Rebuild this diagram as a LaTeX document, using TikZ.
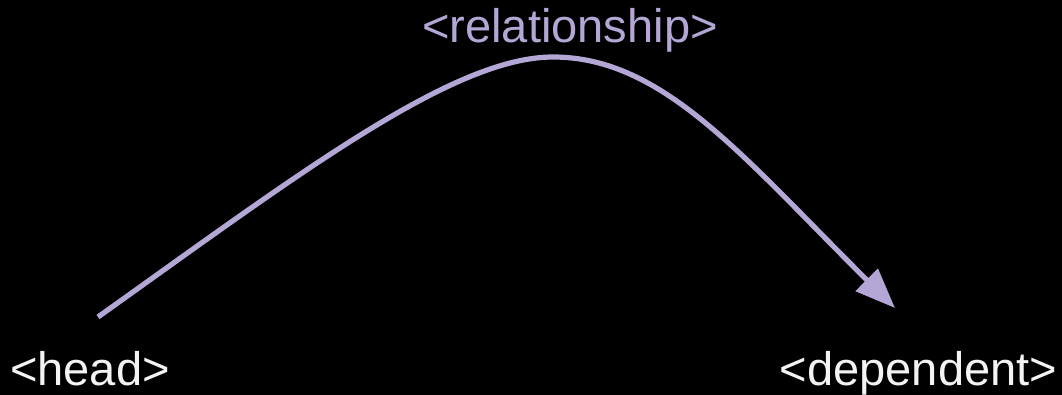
\documentclass[tikz,border=0pt]{standalone}
\usepackage{fontspec}
\setmainfont{Liberation Sans}
\usetikzlibrary{arrows.meta}
\definecolor{lav}{HTML}{B4A7D6}
\definecolor{txt}{HTML}{F3F3F3}
\tikzset{
  lbl/.style={anchor=base, inner sep=0pt, font=\fontsize{35.3pt}{40pt}\selectfont},
  rel/.style={draw=lav, line width=3.9pt, -{Triangle[length=30pt,width=23pt]}}
}
\begin{document}
\begin{tikzpicture}[x=0.75pt,y=-0.75pt]
\fill[black] (0,0) rectangle (1062,395);
\useasboundingbox (0,0) rectangle (1062,395);
\node[lbl, text=txt] (head) at (90,385) {<head>};
\node[lbl, text=txt] (dependent) at (918.5,385.5) {<dependent>};
\node[lbl, text=lav] (relation) at (570,43) {<relationship>};
\coordinate (hs) at (98,317);
\coordinate (peak) at (553,57);
\coordinate (de) at (895,308);
\draw[rel] (hs) .. controls (300,173) and (453,57) .. (peak)
  .. controls (663,57) and (743,157) .. (de);
\end{tikzpicture}
\end{document}
